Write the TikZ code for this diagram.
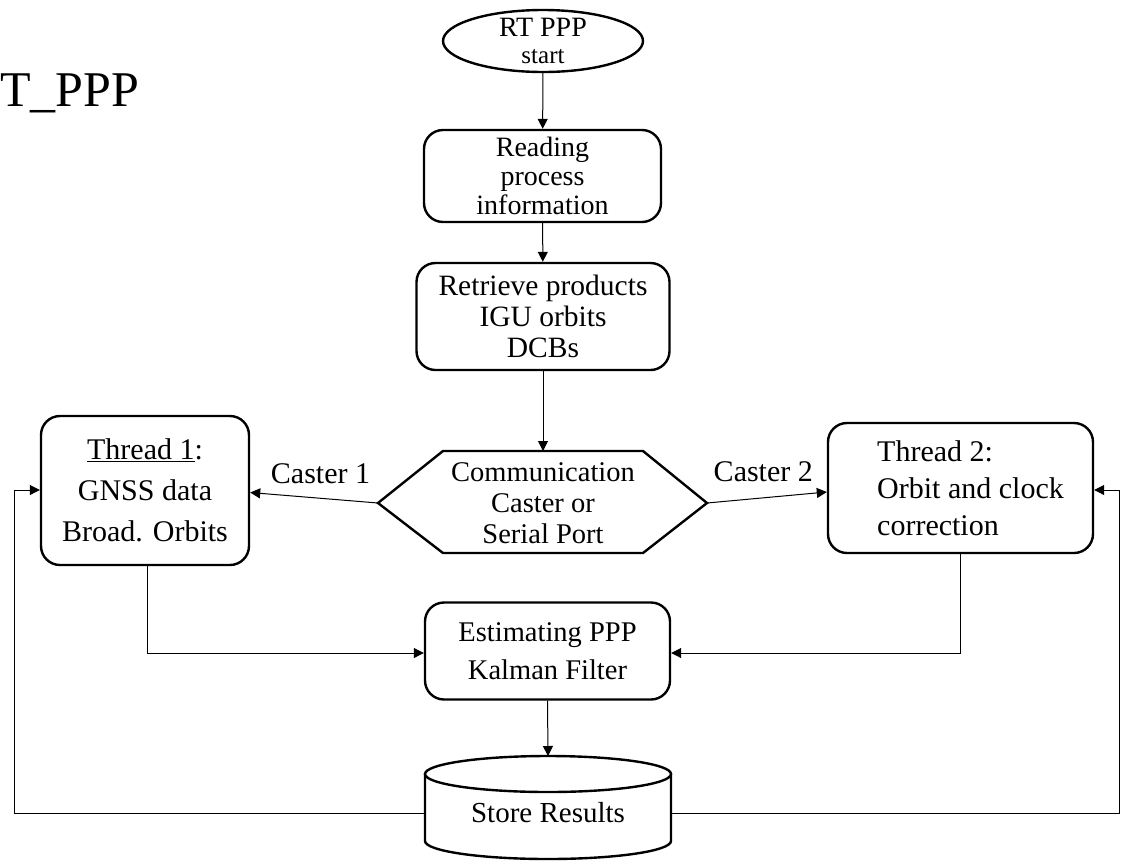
\documentclass[tikz,border=0pt]{standalone}
\usepackage{fontspec}
\setmainfont{Liberation Serif}
\usetikzlibrary{arrows.meta,shapes.geometric}
\begin{document}
\begin{tikzpicture}[x=1pt,y=-1pt,
  box/.style={draw, line width=2.4pt, rounded corners=19pt, align=center, inner sep=0pt},
  arr/.style={-{Triangle[length=10pt,width=10pt]}, line width=1pt},
  shp/.style={line width=2.4pt},
  lbl/.style={inner sep=0pt, font=\fontsize{30}{30}\selectfont}]
\useasboundingbox (0,0) rectangle (1122,863);
% title fragment
\node[anchor=base west, inner sep=0pt, font=\fontsize{50}{54}\selectfont] (title) at (0,106) {T\_PPP};
% start ellipse
\node[draw, line width=2.4pt, ellipse, minimum width=200pt, minimum height=62pt, inner sep=0pt] (start) at (543,41) {};
\node[anchor=base, inner sep=0pt, font=\fontsize{28}{28}\selectfont] (st1) at (543,36) {RT PPP};
\node[anchor=base, inner sep=0pt, font=\fontsize{25}{25}\selectfont] (st2) at (543,63) {start};
\node[box, minimum width=237pt, minimum height=92pt, font=\fontsize{28}{29}\selectfont] (read) at (542.5,176) {Reading\\process\\information};
\node[box, minimum width=253pt, minimum height=107pt, font=\fontsize{29.5}{31}\selectfont] (ret) at (543,316.5) {Retrieve products\\IGU orbits\\DCBs};
% hexagon
\coordinate (hexL) at (378,503);
\coordinate (hexR) at (707,503);
\coordinate (hexT) at (543,451);
\draw[shp] (hexL) -- (443,451) -- (643,451) -- (hexR) -- (643,553) -- (443,553) -- cycle;
\node[align=center, inner sep=0pt, font=\fontsize{28.5}{31}\selectfont] (hex) at (543,503) {Communication\\Caster or\\Serial Port};
% threads
\node[box, minimum width=208pt, minimum height=149pt, font=\fontsize{30}{41}\selectfont] (t1) at (145,490.5)
  {\underline{Thread 1}:\\GNSS data\\Broad. Orbits};
\node[box, minimum width=265pt, minimum height=130pt] (t2) at (960.5,488) {};
\node[anchor=west, align=left, inner sep=0pt, font=\fontsize{30}{37}\selectfont] (t2txt) at (877,488) {Thread 2:\\Orbit and clock\\correction};
% estimating
\node[box, minimum width=245pt, minimum height=97pt, font=\fontsize{28.5}{38}\selectfont] (est) at (547.5,651) {Estimating PPP\\Kalman Filter};
% cylinder
\node[minimum width=246pt, minimum height=80pt, inner sep=0pt, font=\fontsize{29}{30}\selectfont] (cyl) at (548,813) {\raisebox{-6pt}{Store Results}};
\draw[shp] (548,774) ellipse [x radius=123, y radius=18];
\draw[shp] (425,774) -- (425,841) arc[start angle=180, end angle=0, x radius=123, y radius=18] -- (671,774);
\coordinate (cylT) at (548,756);
% connectors
\draw[arr] (start) -- (read);
\draw[arr] (read) -- (ret);
\draw[arr] (ret.south) -- (hexT);
\draw[arr] (hexL) -- node[lbl, pos=0.45, above=14pt] (c1) {Caster 1} ([yshift=-2pt]t1.east);
\draw[arr] (hexR) -- node[lbl, pos=0.47, above=16pt] (c2) {Caster 2} ([yshift=-4pt]t2.west);
\draw[arr] ([xshift=2pt]t1.south) |- ([yshift=-2pt]est.west);
\draw[arr] (t2.south) |- ([yshift=-2pt]est.east);
\draw[arr] (est.south) -- (cylT);
\draw[arr] (cyl.west) -| (14,490) -- (t1.west |- 0,490);
\draw[arr] (cyl.east) -| (1119,490) -- (t2.east |- 0,490);
\end{tikzpicture}
\end{document}
